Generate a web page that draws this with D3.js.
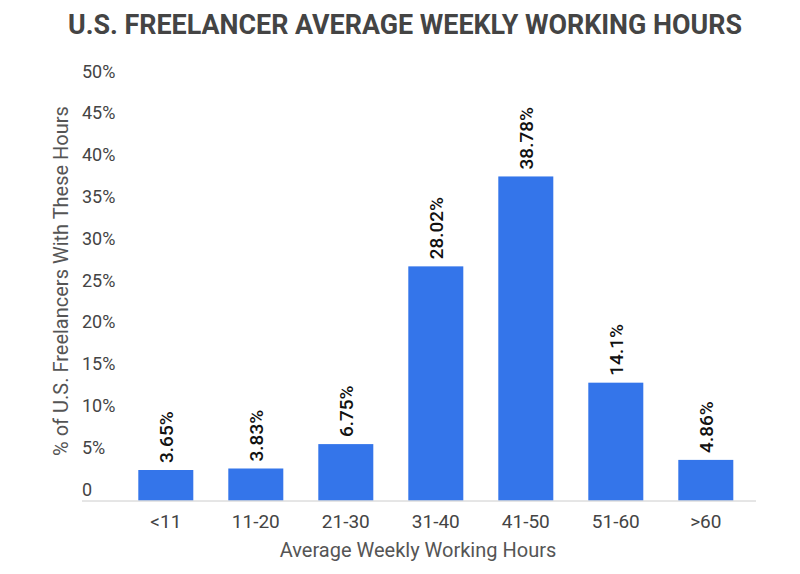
<!DOCTYPE html>
<html>
<head>
<meta charset="utf-8">
<script src="https://cdn.jsdelivr.net/npm/d3@7"></script>
<style>
  body { margin: 0; background: #fff; }
  text { font-family: Roboto, "Noto Sans", sans-serif; }
</style>
</head>
<body>
<svg id="chart" width="800" height="574"></svg>
<script>
var categories = ["<11", "11-20", "21-30", "31-40", "41-50", "51-60", ">60"];
var values = [3.65, 3.83, 6.75, 28.02, 38.78, 14.1, 4.86];
var valueLabels = ["3.65%", "3.83%", "6.75%", "28.02%", "38.78%", "14.1%", "4.86%"];
var yTicks = [0, 5, 10, 15, 20, 25, 30, 35, 40, 45, 50];

var svg = d3.select("#chart");

var x = d3.scaleBand()
    .domain(categories)
    .range([120.8, 750.8])
    .paddingInner(35 / 90)
    .paddingOuter(17.5 / 90);

var y = d3.scaleLinear()
    .domain([0, 50])
    .range([500.5, 82.7]);

// title
svg.append("text")
    .attr("x", 405)
    .attr("y", 34)
    .attr("text-anchor", "middle")
    .attr("textLength", 674)
    .attr("lengthAdjust", "spacingAndGlyphs")
    .style("font-size", "28px")
    .style("font-weight", "bold")
    .style("fill", "#444")
    .text("U.S. FREELANCER AVERAGE WEEKLY WORKING HOURS");

// y tick labels (drawn above their value, no gridlines)
svg.append("g")
    .selectAll("text")
    .data(yTicks)
    .enter().append("text")
    .attr("x", 82)
    .attr("y", function (d) { return y(d) - 5; })
    .style("font-size", "18px")
    .style("fill", "#444")
    .text(function (d) { return d === 0 ? "0" : d + "%"; });

// bars
svg.append("g")
    .selectAll("rect")
    .data(values)
    .enter().append("rect")
    .attr("x", function (d, i) { return x(categories[i]); })
    .attr("y", function (d) { return y(d); })
    .attr("width", x.bandwidth())
    .attr("height", function (d) { return y(0) - y(d); })
    .style("fill", "#3475ea");

// value labels
svg.append("g")
    .selectAll("text")
    .data(values)
    .enter().append("text")
    .attr("transform", function (d, i) {
        return "translate(" + (x(categories[i]) + x.bandwidth() / 2 + 7) + "," + (y(d) - 7) + ") rotate(-90)";
    })
    .style("font-size", "19px")
    .style("font-weight", "500")
    .style("fill", "#111")
    .text(function (d, i) { return valueLabels[i]; });

// baseline
svg.append("line")
    .attr("x1", 82)
    .attr("x2", 756)
    .attr("y1", y(0) + 0.5)
    .attr("y2", y(0) + 0.5)
    .style("stroke", "#ccc")
    .style("stroke-width", 1);

// x axis labels
var xAxis = svg.append("g")
    .attr("transform", "translate(0," + y(0) + ")")
    .call(d3.axisBottom(x).tickSize(0).tickPadding(14));
xAxis.select(".domain").remove();
xAxis.selectAll("text")
    .style("font-size", "19px")
    .style("fill", "#444")
    .style("font-family", "Roboto, sans-serif");

// axis titles
svg.append("text")
    .attr("x", 418)
    .attr("y", 557)
    .attr("text-anchor", "middle")
    .style("font-size", "20px")
    .style("fill", "#555")
    .text("Average Weekly Working Hours");

svg.append("text")
    .attr("transform", "translate(68,281) rotate(-90)")
    .attr("text-anchor", "middle")
    .style("font-size", "20px")
    .style("fill", "#555")
    .text("% of U.S. Freelancers With These Hours");
</script>
</body>
</html>
